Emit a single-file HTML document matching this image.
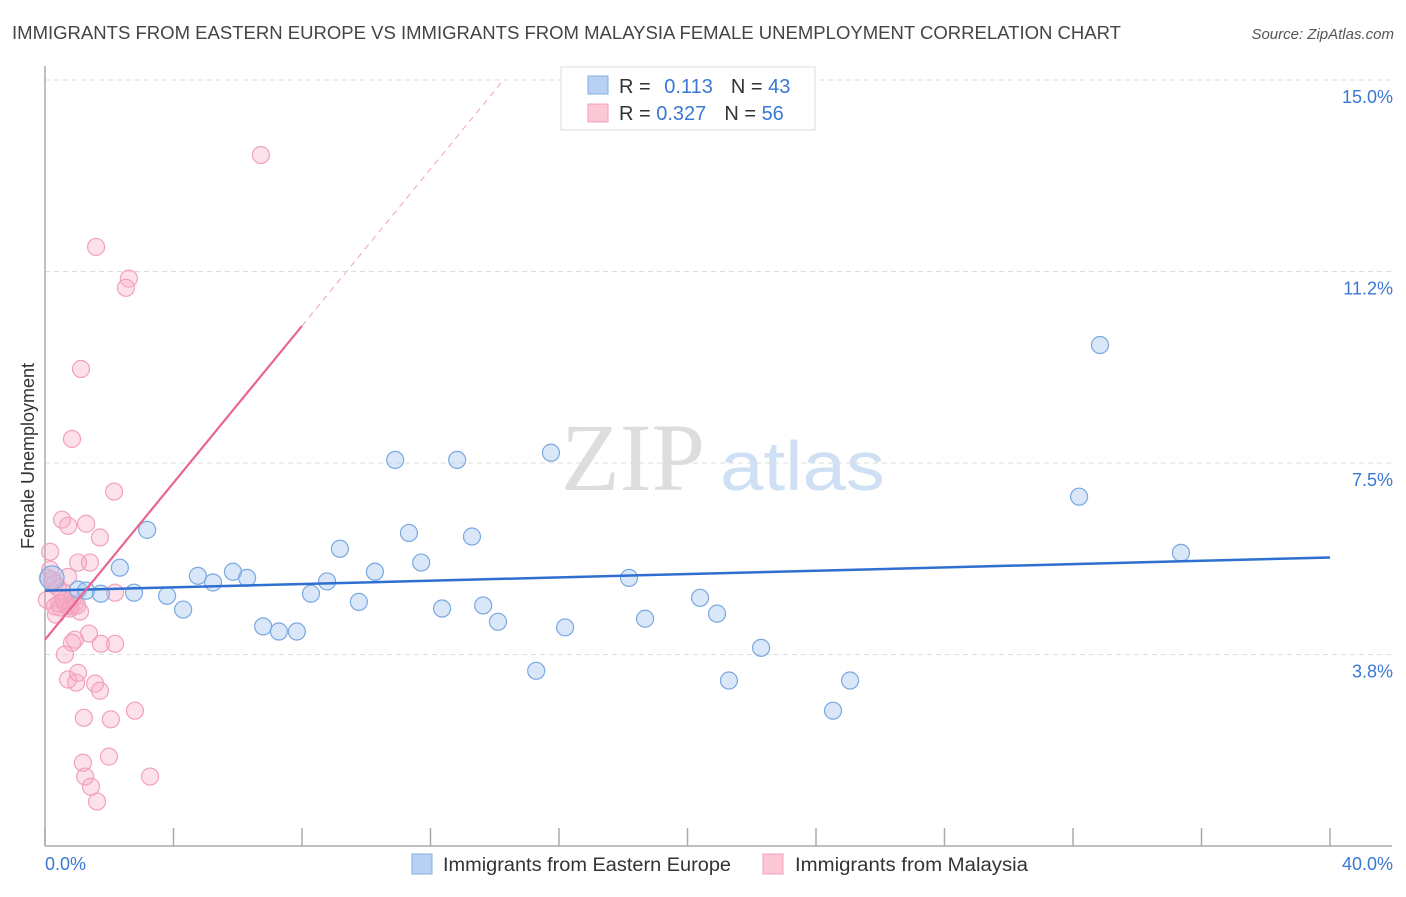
<!DOCTYPE html>
<html><head><meta charset="utf-8"><style>
body{margin:0;background:#fff;font-family:"Liberation Sans",sans-serif;}
</style></head><body>
<svg id="chart" width="1406" height="892" xmlns="http://www.w3.org/2000/svg" font-family="Liberation Sans, sans-serif">
<text x="12" y="39" font-size="18" fill="#444" textLength="1109" lengthAdjust="spacingAndGlyphs">IMMIGRANTS FROM EASTERN EUROPE VS IMMIGRANTS FROM MALAYSIA FEMALE UNEMPLOYMENT CORRELATION CHART</text>
<text x="1394" y="39" font-size="15" fill="#555" font-style="italic" text-anchor="end">Source: ZipAtlas.com</text>
<text transform="translate(34,456) rotate(-90)" font-size="18" fill="#333" text-anchor="middle">Female Unemployment</text>
<g>
<text x="633" y="490" font-size="96" fill="#ddd" font-family="Liberation Serif, serif" text-anchor="middle">ZIP</text>
<text x="720" y="490" font-size="70" fill="#cfe0f5" textLength="165" lengthAdjust="spacingAndGlyphs">atlas</text>
</g>
<g id="grid"></g><g id="axes"></g><g id="marks"></g>
<g>
<rect x="561" y="67" width="254" height="63" fill="#fff" stroke="#ddd"/>
<rect x="588" y="76" width="20" height="18" fill="#b8d1f3" stroke="#85ade6"/>
<rect x="588" y="104" width="20" height="18" fill="#fbc8d6" stroke="#f3a0ba"/>
<text x="619" y="93" font-size="20" fill="#333">R = <tspan fill="#3a78d4" dx="8">0.113</tspan><tspan fill="#333" dx="18">N = </tspan><tspan fill="#3a78d4">43</tspan></text>
<text x="619" y="120" font-size="20" fill="#333">R = <tspan fill="#3a78d4">0.327</tspan><tspan fill="#333" dx="18">N = </tspan><tspan fill="#3a78d4">56</tspan></text>
</g>
<g>
<rect x="412" y="854" width="20" height="20" fill="#b8d1f3" stroke="#85ade6"/>
<text x="443" y="871" font-size="19" fill="#333" textLength="288" lengthAdjust="spacingAndGlyphs">Immigrants from Eastern Europe</text>
<rect x="763" y="854" width="20" height="20" fill="#fbc8d6" stroke="#f3a0ba"/>
<text x="795" y="871" font-size="19" fill="#333" textLength="233" lengthAdjust="spacingAndGlyphs">Immigrants from Malaysia</text>
</g>
</svg>
<script>
const blueX=[0.22,1.03,1.28,1.74,2.33,2.77,3.18,3.80,4.30,4.76,5.23,5.85,6.29,6.79,7.28,7.84,8.28,8.78,9.18,9.77,10.27,10.90,11.33,11.71,12.36,12.83,13.29,13.64,14.10,15.29,15.75,16.19,18.18,18.68,20.39,20.92,21.29,22.29,24.53,25.06,32.19,32.84,35.36];
const blueY=[5.25,5.02,5.00,4.94,5.45,4.96,6.19,4.90,4.63,5.29,5.16,5.37,5.25,4.30,4.20,4.20,4.94,5.18,5.82,4.78,5.37,7.56,6.13,5.55,4.65,7.56,6.06,4.71,4.39,3.43,7.70,4.28,5.25,4.45,4.86,4.55,3.24,3.88,2.65,3.24,6.84,9.81,5.74];
const pinkX=[6.72,1.59,2.61,2.52,1.12,0.84,2.15,0.53,1.28,0.72,1.71,0.16,1.03,1.40,0.16,0.72,0.31,0.53,0.06,0.31,0.47,0.62,0.78,0.93,1.09,0.34,0.68,2.18,1.37,0.93,0.84,1.74,2.18,0.62,0.72,0.97,1.56,1.71,1.03,1.21,2.05,2.80,1.18,1.99,1.25,3.27,1.43,1.62,0.40,0.87,0.22,0.09,0.59,0.78,1.00,0.44];
const pinkY=[13.53,11.73,11.11,10.93,9.34,7.97,6.94,6.39,6.31,6.27,6.04,5.76,5.55,5.55,5.41,5.27,5.14,4.98,4.82,4.69,4.67,4.77,4.69,4.75,4.59,4.53,4.71,4.96,4.16,4.04,3.98,3.96,3.96,3.75,3.26,3.20,3.18,3.04,3.39,2.51,2.48,2.65,1.63,1.75,1.36,1.36,1.16,0.87,5.06,4.86,5.21,5.25,4.82,4.65,4.71,4.75];
const yTicks=[15.0,11.25,7.5,3.75];
const yTickLabels=["15.0%","11.2%","7.5%","3.8%"];
const xTicks=[0,4,8,12,16,20,24,28,32,36,40];
const blueTrend=[5.0,5.65];
const pinkTrend=[4.04,0.768];
const pinkSolidEnd=8;
const NS="http://www.w3.org/2000/svg";
const sx=v=>45+v/40*1285, sy=v=>846-v*51.07;
function mk(tag,attrs,parent){const e=document.createElementNS(NS,tag);for(const k in attrs)e.setAttribute(k,attrs[k]);document.getElementById(parent).appendChild(e);return e;}
yTicks.forEach((t,i)=>{
 const l=mk('line',{x1:45,x2:1392,y1:sy(t),y2:sy(t),stroke:'#ddd','stroke-dasharray':'5,4'},'grid');
 
 
 const tx=mk('text',{x:1393,y:sy(t)+23,'font-size':18,fill:'#3a78d4','text-anchor':'end'},'axes');
 tx.textContent=yTickLabels[i];
 
 
});
const ya=mk('line',{x1:45,x2:45,y1:66,y2:846,stroke:'#aaa','stroke-width':1.5},'axes');


const xa=mk('line',{x1:45,x2:1392,y1:846,y2:846,stroke:'#aaa','stroke-width':1.5},'axes');


xTicks.forEach(t=>{
 const l=mk('line',{x1:sx(t),x2:sx(t),y1:828,y2:846,stroke:'#aaa','stroke-width':1.5},'axes');
 
 
});
[[0,"0.0%","start",45],[40,"40.0%","end",1393]].forEach(a=>{
 const tx=mk('text',{x:a[3],y:870,'font-size':18,fill:'#3a78d4','text-anchor':a[2]},'axes');
 tx.textContent=a[1];
 
 
});
pinkX.forEach((x,i)=>{
 const c=mk('circle',{cx:sx(x),cy:sy(pinkY[i]),r:8.5,fill:'rgba(248,170,195,0.35)',stroke:'#f0a2ba','stroke-width':1.2},'marks');
 
 
});
blueX.forEach((x,i)=>{
 const c=mk('circle',{cx:sx(x),cy:sy(blueY[i]),r:i===0?12:8.5,fill:'rgba(160,195,240,0.4)',stroke:'#7aa8e0','stroke-width':1.2},'marks');
 
 
});
const bt=mk('line',{x1:sx(0),y1:sy(blueTrend[0]),x2:sx(40),y2:sy(blueTrend[1]),stroke:'#2f6fd1','stroke-width':2.5},'marks');


const pEnd=(15-pinkTrend[0])/pinkTrend[1];
const pd=mk('line',{x1:sx(pinkSolidEnd),y1:sy(pinkTrend[0]+pinkTrend[1]*pinkSolidEnd),x2:sx(pEnd),y2:sy(15),stroke:'#f0a2ba','stroke-width':1,'stroke-dasharray':'6,5'},'marks');


const pt=mk('line',{x1:sx(0),y1:sy(pinkTrend[0]),x2:sx(pinkSolidEnd),y2:sy(pinkTrend[0]+pinkTrend[1]*pinkSolidEnd),stroke:'#e8668f','stroke-width':2.2},'marks');


</script>
</body></html>
